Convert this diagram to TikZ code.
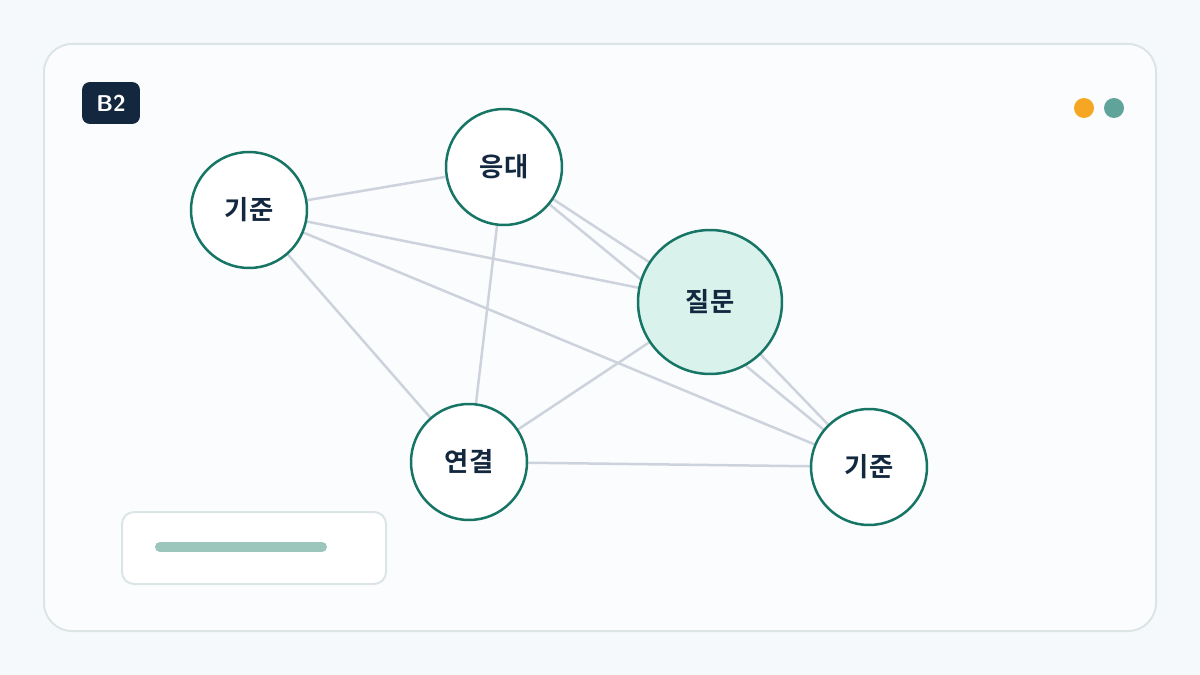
\documentclass[tikz,border=0pt]{standalone}
\usepackage{fontspec}
\newfontfamily\kr{Noto Sans CJK KR}[BoldFont={Noto Sans CJK KR Bold}]
\usetikzlibrary{positioning}
\definecolor{pagebg}{HTML}{F6F9FB}
\definecolor{cardbg}{HTML}{FBFCFD}
\definecolor{cardline}{HTML}{DCE5E6}
\definecolor{ink}{HTML}{13283F}
\definecolor{ring}{HTML}{167565}
\definecolor{hot}{HTML}{D9F2EC}
\definecolor{edge}{HTML}{CDD3DC}
\definecolor{dotA}{HTML}{F5A623}
\definecolor{dotB}{HTML}{5FA39A}
\definecolor{bar}{HTML}{9CC5BB}
\begin{document}
\begin{tikzpicture}[x=0.02cm, y=-0.02cm,
    topic/.style={circle, draw=ring, line width=0.05cm, fill=white, minimum size=2.32cm, inner sep=0pt, font=\kr\bfseries\fontsize{15}{18}\selectfont, text=ink},
    link/.style={draw=edge, line width=0.05cm}
]

% Background and card
\fill[pagebg] (0,0) rectangle (1200,675);
\draw[cardline, fill=cardbg, line width=0.04cm, rounded corners=0.56cm] (44,44) rectangle (1156,631);

% Badge and dots
\node[fill=ink, rounded corners=0.16cm, minimum width=1.16cm, minimum height=0.84cm, text=white, font=\sffamily\bfseries\fontsize{13}{15}\selectfont] (badge) at (111,103) {B2};
\fill[dotA] (1084,108) circle (0.2cm);
\fill[dotB] (1114,108) circle (0.2cm);

% Topic centres
\coordinate (kl) at (249,210);
\coordinate (ed) at (504,167);
\coordinate (qs) at (710,302);
\coordinate (yg) at (469,462);
\coordinate (kr) at (869,467);

% Links
\foreach \a/\b in {kl/ed, kl/qs, kl/kr, kl/yg, ed/qs, ed/kr, ed/yg, qs/yg, qs/kr, yg/kr}
    \path[link] (\a) -- (\b);

% Topics
\node[topic] (klN) at (kl) {기준};
\node[topic] (edN) at (ed) {응대};
\node[topic, fill=hot, minimum size=2.88cm] (qsN) at (qs) {질문};
\node[topic] (ygN) at (yg) {연결};
\node[topic] (krN) at (kr) {기준};

% Legend box
\draw[draw=cardline, fill=white, line width=0.04cm, rounded corners=0.24cm] (122,512) rectangle (386,584);
\draw[bar, line width=0.2cm, line cap=round] (160,547) -- (322,547);

\end{tikzpicture}
\end{document}
